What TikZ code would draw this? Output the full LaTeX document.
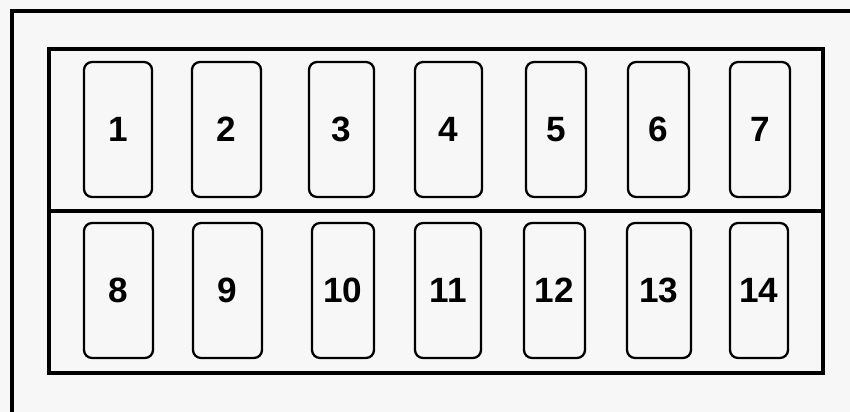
\documentclass[tikz,border=0pt]{standalone}
\usepackage{fontspec}
\setmainfont{Liberation Sans}
\usepackage{tikz}

\tikzset{
    fuse/.style={draw, line width=1.3pt, rounded corners=0.16cm, inner sep=0pt, outer sep=0pt,
        minimum height=2.7cm, font=\fontsize{20}{24}\selectfont\bfseries},
}

\begin{document}
\begin{tikzpicture}[x=0.02cm,y=-0.02cm]
    \useasboundingbox[fill=black!3] (0,0) rectangle (850,412);

    % housing
    \draw[line width=2pt] (12,412) -- (12,11) -- (850,11);

    % fuse panel
    \coordinate (tl) at (49,49);
    \coordinate (br) at (823,373);
    \coordinate (ml) at (49,211);
    \coordinate (mr) at (823,211);
    \draw[line width=2.1pt] (tl) rectangle (br);
    \draw[line width=1.8pt] (ml) -- (mr);

    % upper row
    \node[fuse, minimum width=1.36cm] (f1) at (118,129.5) {1};
    \node[fuse, minimum width=1.38cm] (f2) at (226.5,129.5) {2};
    \node[fuse, minimum width=1.30cm] (f3) at (341.5,129.5) {3};
    \node[fuse, minimum width=1.34cm] (f4) at (448.5,129.5) {4};
    \node[fuse, minimum width=1.20cm] (f5) at (556,129.5) {5};
    \node[fuse, minimum width=1.22cm] (f6) at (658.5,129.5) {6};
    \node[fuse, minimum width=1.20cm] (f7) at (760,129.5) {7};

    % lower row
    \node[fuse, minimum width=1.38cm] (f8)  at (118.5,290.5) {8};
    \node[fuse, minimum width=1.38cm] (f9)  at (227.5,290.5) {9};
    \node[fuse, minimum width=1.24cm] (f10) at (343,290.5) {10};
    \node[fuse, minimum width=1.32cm] (f11) at (448,290.5) {11};
    \node[fuse, minimum width=1.22cm] (f12) at (554.5,290.5) {12};
    \node[fuse, minimum width=1.28cm] (f13) at (659,290.5) {13};
    \node[fuse, minimum width=1.16cm] (f14) at (759,290.5) {14};
\end{tikzpicture}
\end{document}
